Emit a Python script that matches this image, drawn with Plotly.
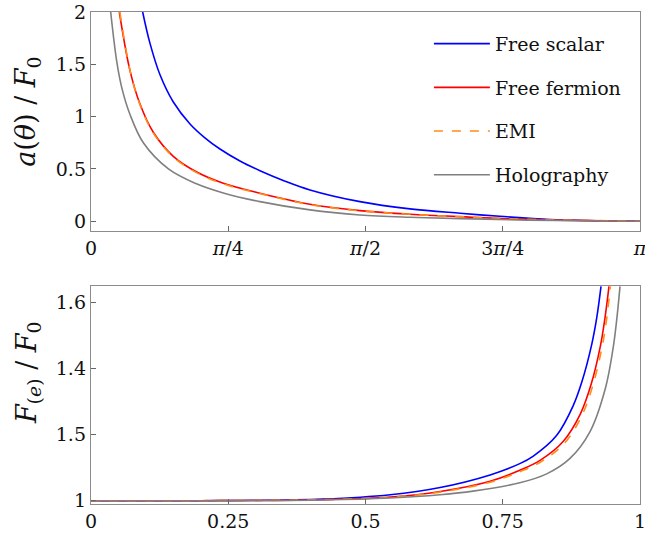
import numpy as np
import plotly.graph_objects as go
from plotly.subplots import make_subplots

PI = np.pi

# ---- top panel: a(theta)/F0 vs theta ----
theta_scalar = [0.2956, 0.3376, 0.3948, 0.471, 0.5665, 0.650, 0.738, 0.8526, 0.967, 1.10,  1.253, 1.539, 1.825, 2.112, 2.34,  2.627, 3.1416]
a_scalar     = [2.0,    1.70,   1.40,   1.14,  0.93,   0.80,  0.69,  0.575,  0.483, 0.390, 0.299, 0.187, 0.118, 0.076, 0.047, 0.016, 0.0]

theta_fermion = [0.162, 0.2232, 0.2804, 0.3565, 0.471, 0.605, 0.757, 0.967, 1.253, 1.539, 1.825, 2.112, 2.5,   3.1416]
a_fermion     = [2.0,   1.44,   1.12,   0.85,   0.62,  0.47,  0.363, 0.268, 0.162, 0.101, 0.067, 0.044, 0.018, 0.0]

theta_emi = [0.165, 0.2262, 0.2834, 0.3595, 0.475, 0.609, 0.760, 0.970, 1.253, 1.539, 1.825, 2.112, 2.5,   3.1416]
a_emi     = [2.0,   1.42,   1.10,   0.835,  0.607, 0.460, 0.355, 0.263, 0.159, 0.099, 0.066, 0.043, 0.018, 0.0]

theta_holo = [0.1126, 0.147, 0.1756, 0.2232, 0.2995, 0.443, 0.600, 0.757, 0.967, 1.253, 1.539, 1.825, 2.112, 2.5,   3.1416]
a_holo     = [2.0,    1.53,  1.28,   1.02,   0.75,   0.50,  0.36,  0.27,  0.187, 0.108, 0.060, 0.038, 0.025, 0.010, 0.0]

# ---- bottom panel: F(e)/F0 vs e ----
e_scalar = [0.0, 0.2, 0.423, 0.545, 0.636, 0.727, 0.781, 0.8057, 0.848, 0.8785, 0.8937, 0.912, 0.921, 0.929]
F_scalar = [1.0, 1.0, 1.005, 1.018, 1.040, 1.078, 1.112, 1.135,  1.197, 1.288,  1.357,  1.472, 1.551, 1.648]

e_fermion = [0.0, 0.2, 0.423, 0.545, 0.636, 0.727, 0.781, 0.818, 0.860, 0.891, 0.911, 0.928, 0.936, 0.9435]
F_fermion = [1.0, 1.0, 1.003, 1.011, 1.028, 1.059, 1.092, 1.122, 1.179, 1.261, 1.352, 1.469, 1.550, 1.648]

e_emi = [0.0, 0.2, 0.423, 0.545, 0.636, 0.727, 0.783, 0.821, 0.863, 0.894, 0.914, 0.931, 0.939, 0.946]
F_emi = [1.0, 1.0, 1.003, 1.010, 1.026, 1.056, 1.089, 1.119, 1.175, 1.257, 1.348, 1.465, 1.546, 1.648]

e_holo = [0.0, 0.2, 0.423, 0.545, 0.636, 0.696, 0.781, 0.830, 0.872, 0.909, 0.937, 0.951, 0.9575, 0.9636]
F_holo = [1.0, 1.0, 1.002, 1.008, 1.018, 1.029, 1.054, 1.081, 1.127, 1.209, 1.340, 1.461, 1.546,  1.648]

names = ["Free scalar", "Free fermion", "EMI", "Holography"]
colors = ["#0000ff", "#ff0000", "#ff8c1a", "#808080"]
dashes = ["solid", "solid", "dash", "solid"]

top_x = [theta_scalar, theta_fermion, theta_emi, theta_holo]
top_y = [a_scalar, a_fermion, a_emi, a_holo]
bot_x = [e_scalar, e_fermion, e_emi, e_holo]
bot_y = [F_scalar, F_fermion, F_emi, F_holo]

top_tickvals = [0, PI / 4, PI / 2, 3 * PI / 4, PI]
top_ticktext = ["0", "<i>π</i>/4", "<i>π</i>/2", "3<i>π</i>/4", "<i>π</i>"]
top_ytickvals = [0, 0.5, 1, 1.5, 2]
top_yticktext = ["0", "0.5", "1", "1.5", "2"]
bot_tickvals = [0, 0.25, 0.5, 0.75, 1]
bot_ticktext = ["0", "0.25", "0.5", "0.75", "1"]
bot_ytickvals = [1, 1.2, 1.4, 1.6]
bot_yticktext = ["1", "1.5", "1.4", "1.6"]
y_titles = ["<i>a</i>(<i>θ</i>) / <i>F</i><sub>0</sub>",
            "<i>F</i><sub>(<i>e</i>)</sub> / <i>F</i><sub>0</sub>"]

FONT = "DejaVu Serif"
fig = make_subplots(rows=2, cols=1, vertical_spacing=0.11)

for i in range(4):
    fig.add_trace(go.Scatter(x=top_x[i], y=top_y[i], mode="lines", name=names[i],
                             line=dict(color=colors[i], width=1.6, dash=dashes[i], shape="spline", smoothing=1.0),
                             legendgroup=str(i), showlegend=True), row=1, col=1)
for i in range(4):
    fig.add_trace(go.Scatter(x=bot_x[i], y=bot_y[i], mode="lines", name=names[i],
                             line=dict(color=colors[i], width=1.6, dash=dashes[i], shape="spline", smoothing=1.0),
                             legendgroup=str(i), showlegend=False), row=2, col=1)

axis_common = dict(showline=True, linecolor="#8c8c8c", linewidth=1.4, mirror=True,
                   ticks="inside", ticklen=5, tickcolor="#666", tickwidth=1,
                   showgrid=False, zeroline=False, ticklabeloverflow="allow", automargin=False,
                   tickfont=dict(family=FONT, size=19, color="#111"))

fig.update_xaxes(**axis_common)
fig.update_yaxes(**axis_common)

fig.update_xaxes(range=[0, PI], tickvals=top_tickvals, ticktext=top_ticktext, row=1, col=1)
fig.update_yaxes(range=[-0.093, 2.0], tickvals=top_ytickvals, ticktext=top_yticktext,
                 domain=[0.555, 1.0], row=1, col=1)
fig.update_xaxes(range=[0, 1], tickvals=bot_tickvals, ticktext=bot_ticktext, row=2, col=1)
fig.update_yaxes(range=[0.99, 1.65], tickvals=bot_ytickvals, ticktext=bot_yticktext,
                 domain=[0.0, 0.4437], row=2, col=1)

# y-axis titles as rotated annotations, placed like the reference
for txt, ypos in zip(y_titles, [0.797, 0.268]):
    fig.add_annotation(text=txt, xref="paper", yref="paper", x=-0.1148, y=ypos,
                       xanchor="center", yanchor="middle", textangle=-90, showarrow=False,
                       font=dict(family=FONT, size=27, color="#111"))

fig.update_layout(
    width=645, height=539,
    margin=dict(l=91, r=5, t=12, b=35),
    paper_bgcolor="white", plot_bgcolor="white",
    showlegend=True,
    legend=dict(x=0.6155, y=0.974, xanchor="left", yanchor="top",
                bgcolor="rgba(0,0,0,0)", font=dict(family=FONT, size=19, color="#111"),
                tracegroupgap=16, itemwidth=56),
)

fig.write_html("out.html", config={"displayModeBar": False},
               post_script="document.body.style.margin='0px';document.body.style.overflow='hidden';")
